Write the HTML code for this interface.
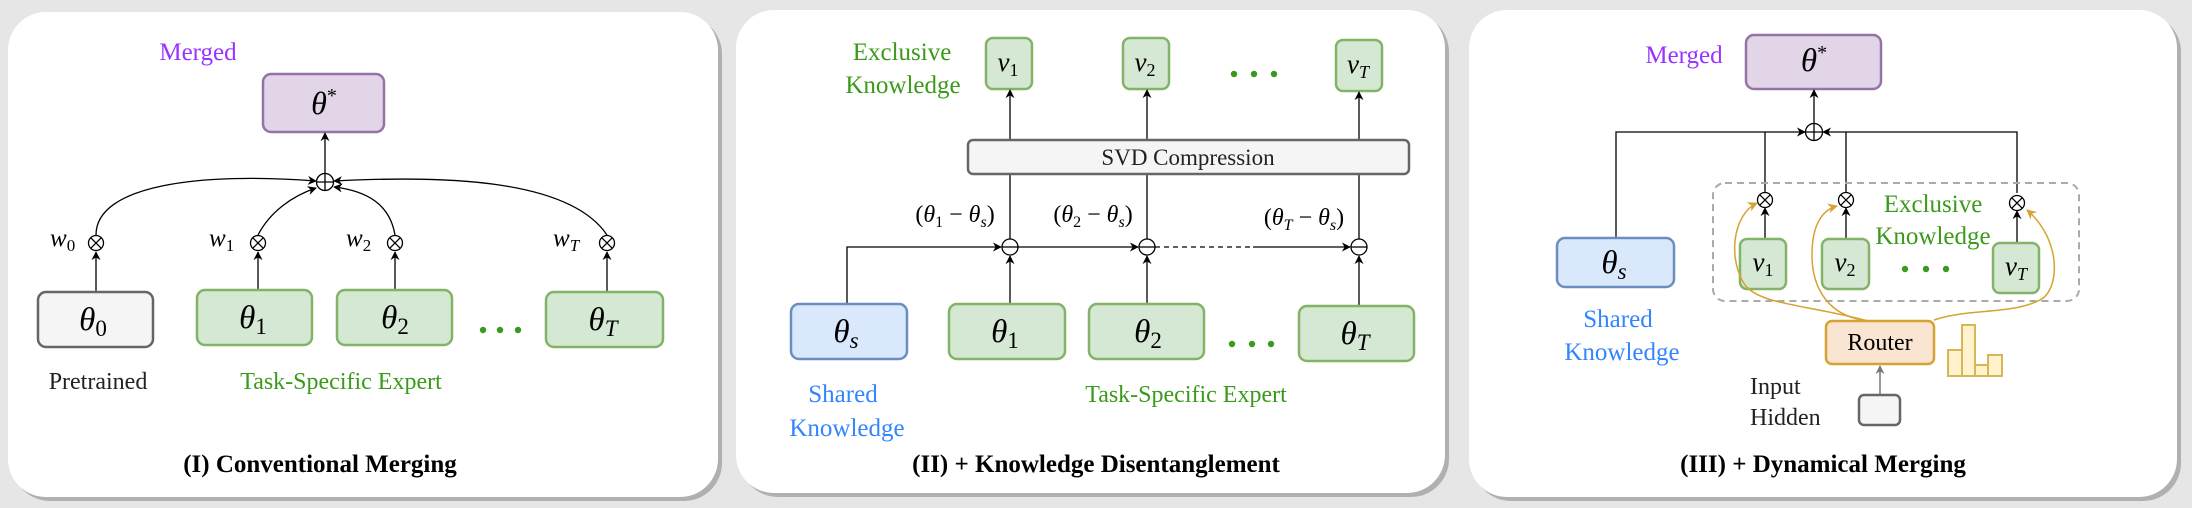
<!DOCTYPE html>
<html><head><meta charset="utf-8"><style>
html,body{margin:0;padding:0;background:#e6e6e6;}
svg{display:block;font-family:"Liberation Serif","Times New Roman",serif;}
text{font-family:"Liberation Serif","Times New Roman",serif !important;}
.m{font-style:italic;}
</style></head><body>
<svg width="2192" height="508" viewBox="0 0 2192 508" xmlns="http://www.w3.org/2000/svg" font-family="Liberation Serif, serif">
<defs>
<marker id="a" viewBox="0 0 10 10" refX="9" refY="5" markerWidth="9" markerHeight="9" orient="auto-start-reverse" markerUnits="userSpaceOnUse"><path d="M0,0 L10,5 L0,10 L3,5 z" fill="#000"/></marker>
<marker id="o" viewBox="0 0 10 10" refX="9" refY="5" markerWidth="10" markerHeight="10" orient="auto" markerUnits="userSpaceOnUse"><path d="M0,0 L10,5 L0,10 L3,5 z" fill="#d6a232"/></marker>
<marker id="g" viewBox="0 0 10 10" refX="9" refY="5" markerWidth="9" markerHeight="9" orient="auto" markerUnits="userSpaceOnUse"><path d="M0,0 L10,5 L0,10 L3,5 z" fill="#777"/></marker>
<g id="ot"><circle r="7.5" fill="#fff" stroke="#000" stroke-width="1.3"/><path d="M-5.3,-5.3 L5.3,5.3 M-5.3,5.3 L5.3,-5.3" stroke="#000" stroke-width="1.3"/></g>
<g id="op"><circle r="8.5" fill="#fff" stroke="#000" stroke-width="1.3"/><path d="M-8.5,0 L8.5,0 M0,-8.5 L0,8.5" stroke="#000" stroke-width="1.3"/></g>
<g id="om"><circle r="8" fill="#fff" stroke="#000" stroke-width="1.3"/><path d="M-8,0 L8,0" stroke="#000" stroke-width="1.3"/></g>
</defs>
<rect width="2192" height="508" fill="#e6e6e6"/>
<rect x="12" y="16" width="710" height="485" rx="38" fill="#b0b0b0"/>
<rect x="8" y="12" width="710" height="485" rx="38" fill="#fff"/>
<rect x="740" y="14" width="709" height="483" rx="38" fill="#b0b0b0"/>
<rect x="736" y="10" width="709" height="483" rx="38" fill="#fff"/>
<rect x="1473" y="14" width="708" height="487" rx="38" fill="#b0b0b0"/>
<rect x="1469" y="10" width="708" height="487" rx="38" fill="#fff"/>

<!-- PANEL 1 -->
<text x="198" y="60" font-size="25" fill="#9933ff" text-anchor="middle">Merged</text>
<rect x="263" y="74" width="121" height="58" rx="8" fill="#e1d5e7" stroke="#9673a6" stroke-width="2.5"/>
<text x="324" y="114" font-size="32" class="m" text-anchor="middle">θ<tspan font-size="20" dy="-12" font-style="normal">*</tspan></text>
<line x1="325" y1="173" x2="325" y2="133" stroke="#000" stroke-width="1.3" marker-end="url(#a)"/>
<g fill="none" stroke="#000" stroke-width="1.3" marker-end="url(#a)">
<path d="M96,235 C96,185 200,172 316,181"/>
<path d="M258,235 C270,212 292,196 316,188"/>
<path d="M395,235 C390,205 368,191 334,187"/>
<path d="M607,235 C570,180 450,175 334,181"/>
<line x1="96" y1="292" x2="96" y2="252"/>
<line x1="258" y1="290" x2="258" y2="252"/>
<line x1="395" y1="290" x2="395" y2="252"/>
<line x1="607" y1="292" x2="607" y2="252"/>
</g>
<use href="#op" x="325" y="182"/>
<use href="#ot" x="96" y="243"/><use href="#ot" x="258" y="243"/><use href="#ot" x="395" y="243"/><use href="#ot" x="607" y="243"/>
<text x="50" y="246" font-size="25" class="m">w<tspan font-size="17" font-style="normal" dy="5">0</tspan></text>
<text x="209" y="246" font-size="25" class="m">w<tspan font-size="17" font-style="normal" dy="5">1</tspan></text>
<text x="346" y="246" font-size="25" class="m">w<tspan font-size="17" font-style="normal" dy="5">2</tspan></text>
<text x="553" y="246" font-size="25" class="m">w<tspan font-size="17" dy="5">T</tspan></text>
<rect x="38" y="292" width="115" height="55" rx="8" fill="#f5f5f5" stroke="#666" stroke-width="2.5"/>
<rect x="197" y="290" width="115" height="55" rx="8" fill="#d5e8d4" stroke="#82b366" stroke-width="2.5"/>
<rect x="337" y="290" width="115" height="55" rx="8" fill="#d5e8d4" stroke="#82b366" stroke-width="2.5"/>
<rect x="546" y="292" width="117" height="55" rx="8" fill="#d5e8d4" stroke="#82b366" stroke-width="2.5"/>
<text x="93" y="330" font-size="33" class="m" text-anchor="middle">θ<tspan font-size="23" font-style="normal" dy="6">0</tspan></text>
<text x="253" y="328" font-size="33" class="m" text-anchor="middle">θ<tspan font-size="23" font-style="normal" dy="6">1</tspan></text>
<text x="395" y="328" font-size="33" class="m" text-anchor="middle">θ<tspan font-size="23" font-style="normal" dy="6">2</tspan></text>
<text x="603" y="330" font-size="33" class="m" text-anchor="middle">θ<tspan font-size="23" dy="6">T</tspan></text>
<g fill="#3a9a1a"><circle cx="483" cy="330" r="3.2"/><circle cx="500" cy="330" r="3.2"/><circle cx="518" cy="330" r="3.2"/></g>
<text x="98" y="389" font-size="24" text-anchor="middle" fill="#222">Pretrained</text>
<text x="341" y="389" font-size="24" text-anchor="middle" fill="#3a9a1a">Task-Specific Expert</text>
<text x="320" y="472" font-size="25" font-weight="bold" text-anchor="middle">(I) Conventional Merging</text>

<!-- PANEL 2 -->
<text x="902" y="60" font-size="25" fill="#3a9a1a" text-anchor="middle">Exclusive</text>
<text x="903" y="93" font-size="25" fill="#3a9a1a" text-anchor="middle">Knowledge</text>
<rect x="986" y="38" width="46" height="51" rx="7" fill="#d5e8d4" stroke="#82b366" stroke-width="2.5"/>
<rect x="1123" y="38" width="46" height="51" rx="7" fill="#d5e8d4" stroke="#82b366" stroke-width="2.5"/>
<rect x="1336" y="40" width="46" height="51" rx="7" fill="#d5e8d4" stroke="#82b366" stroke-width="2.5"/>
<text x="1008" y="71" font-size="27" class="m" text-anchor="middle">v<tspan font-size="18" font-style="normal" dy="5">1</tspan></text>
<text x="1145" y="71" font-size="27" class="m" text-anchor="middle">v<tspan font-size="18" font-style="normal" dy="5">2</tspan></text>
<text x="1358" y="73" font-size="27" class="m" text-anchor="middle">v<tspan font-size="18" dy="5">T</tspan></text>
<g fill="#3a9a1a"><circle cx="1234" cy="74" r="3.2"/><circle cx="1254" cy="74" r="3.2"/><circle cx="1274" cy="74" r="3.2"/></g>
<g stroke="#000" stroke-width="1.3" fill="none">
<line x1="1010" y1="140" x2="1010" y2="90" marker-end="url(#a)"/>
<line x1="1147" y1="140" x2="1147" y2="90" marker-end="url(#a)"/>
<line x1="1359" y1="140" x2="1359" y2="92" marker-end="url(#a)"/>
<line x1="1010" y1="174" x2="1010" y2="239"/>
<line x1="1147" y1="174" x2="1147" y2="239"/>
<line x1="1359" y1="174" x2="1359" y2="239"/>
<path d="M847,304 L847,247 L1001,247" marker-end="url(#a)"/>
<line x1="1018" y1="247" x2="1138" y2="247" marker-end="url(#a)"/>
<line x1="1155" y1="247" x2="1253" y2="247" stroke-dasharray="5,4"/>
<line x1="1253" y1="247" x2="1350" y2="247" marker-end="url(#a)"/>
<line x1="1010" y1="304" x2="1010" y2="256" marker-end="url(#a)"/>
<line x1="1147" y1="304" x2="1147" y2="256" marker-end="url(#a)"/>
<line x1="1359" y1="306" x2="1359" y2="256" marker-end="url(#a)"/>
</g>
<rect x="968" y="140" width="441" height="34" rx="5" fill="#f5f5f5" stroke="#666" stroke-width="2.5"/>
<text x="1188" y="165" font-size="23" text-anchor="middle" fill="#222">SVD Compression</text>
<use href="#om" x="1010" y="247"/><use href="#om" x="1147" y="247"/><use href="#om" x="1359" y="247"/>
<text x="955" y="222" font-size="24" text-anchor="middle">(<tspan class="m">θ</tspan><tspan font-size="16" dy="5">1</tspan><tspan dy="-5"> − </tspan><tspan class="m">θ</tspan><tspan font-size="16" dy="5" class="m">s</tspan><tspan dy="-5">)</tspan></text>
<text x="1093" y="222" font-size="24" text-anchor="middle">(<tspan class="m">θ</tspan><tspan font-size="16" dy="5">2</tspan><tspan dy="-5"> − </tspan><tspan class="m">θ</tspan><tspan font-size="16" dy="5" class="m">s</tspan><tspan dy="-5">)</tspan></text>
<text x="1304" y="225" font-size="24" text-anchor="middle">(<tspan class="m">θ</tspan><tspan font-size="16" dy="5" class="m">T</tspan><tspan dy="-5"> − </tspan><tspan class="m">θ</tspan><tspan font-size="16" dy="5" class="m">s</tspan><tspan dy="-5">)</tspan></text>
<rect x="791" y="304" width="116" height="55" rx="8" fill="#dae8fc" stroke="#6c8ebf" stroke-width="2.5"/>
<rect x="949" y="304" width="116" height="55" rx="8" fill="#d5e8d4" stroke="#82b366" stroke-width="2.5"/>
<rect x="1089" y="304" width="115" height="55" rx="8" fill="#d5e8d4" stroke="#82b366" stroke-width="2.5"/>
<rect x="1299" y="306" width="115" height="55" rx="8" fill="#d5e8d4" stroke="#82b366" stroke-width="2.5"/>
<text x="846" y="342" font-size="33" class="m" text-anchor="middle">θ<tspan font-size="23" dy="6">s</tspan></text>
<text x="1005" y="342" font-size="33" class="m" text-anchor="middle">θ<tspan font-size="23" font-style="normal" dy="6">1</tspan></text>
<text x="1148" y="342" font-size="33" class="m" text-anchor="middle">θ<tspan font-size="23" font-style="normal" dy="6">2</tspan></text>
<text x="1355" y="344" font-size="33" class="m" text-anchor="middle">θ<tspan font-size="23" dy="6">T</tspan></text>
<g fill="#3a9a1a"><circle cx="1232" cy="344" r="3.2"/><circle cx="1252" cy="344" r="3.2"/><circle cx="1271" cy="344" r="3.2"/></g>
<text x="843" y="402" font-size="25" fill="#3385ff" text-anchor="middle">Shared</text>
<text x="847" y="436" font-size="25" fill="#3385ff" text-anchor="middle">Knowledge</text>
<text x="1186" y="402" font-size="24" fill="#3a9a1a" text-anchor="middle">Task-Specific Expert</text>
<text x="1096" y="472" font-size="25" font-weight="bold" text-anchor="middle">(II) + Knowledge Disentanglement</text>

<!-- PANEL 3 -->
<text x="1684" y="63" font-size="25" fill="#9933ff" text-anchor="middle">Merged</text>
<rect x="1746" y="35" width="135" height="54" rx="8" fill="#e1d5e7" stroke="#9673a6" stroke-width="2.5"/>
<text x="1814" y="71" font-size="33" class="m" text-anchor="middle">θ<tspan font-size="20" dy="-12" font-style="normal">*</tspan></text>
<g stroke="#000" stroke-width="1.3" fill="none">
<line x1="1814" y1="123" x2="1814" y2="90" marker-end="url(#a)"/>
<path d="M1616,238 L1616,132 L1805,132" marker-end="url(#a)"/>
<path d="M2017,193 L2017,132 L1823,132" marker-end="url(#a)"/>
<line x1="1765" y1="192" x2="1765" y2="132"/>
<line x1="1846" y1="192" x2="1846" y2="132"/>
<line x1="1765" y1="239" x2="1765" y2="208" marker-end="url(#a)"/>
<line x1="1846" y1="239" x2="1846" y2="208" marker-end="url(#a)"/>
<line x1="2017" y1="243" x2="2017" y2="211" marker-end="url(#a)"/>
</g>
<use href="#op" x="1814" y="132"/>
<rect x="1557" y="238" width="117" height="49" rx="8" fill="#dae8fc" stroke="#6c8ebf" stroke-width="2.5"/>
<text x="1614" y="273" font-size="33" class="m" text-anchor="middle">θ<tspan font-size="23" dy="6">s</tspan></text>
<text x="1618" y="327" font-size="25" fill="#3385ff" text-anchor="middle">Shared</text>
<text x="1622" y="360" font-size="25" fill="#3385ff" text-anchor="middle">Knowledge</text>
<rect x="1713" y="183" width="366" height="118" rx="12" fill="none" stroke="#aaa" stroke-width="2" stroke-dasharray="7,5"/>
<use href="#ot" x="1765" y="200"/><use href="#ot" x="1846" y="200"/><use href="#ot" x="2017" y="203"/>
<rect x="1740" y="239" width="46" height="50" rx="7" fill="#d5e8d4" stroke="#82b366" stroke-width="2.5"/>
<rect x="1822" y="239" width="47" height="50" rx="7" fill="#d5e8d4" stroke="#82b366" stroke-width="2.5"/>
<rect x="1993" y="243" width="46" height="50" rx="7" fill="#d5e8d4" stroke="#82b366" stroke-width="2.5"/>
<text x="1763" y="271" font-size="27" class="m" text-anchor="middle">v<tspan font-size="18" font-style="normal" dy="5">1</tspan></text>
<text x="1845" y="271" font-size="27" class="m" text-anchor="middle">v<tspan font-size="18" font-style="normal" dy="5">2</tspan></text>
<text x="2016" y="275" font-size="27" class="m" text-anchor="middle">v<tspan font-size="18" dy="5">T</tspan></text>
<g fill="#3a9a1a"><circle cx="1905" cy="269" r="3.2"/><circle cx="1926" cy="269" r="3.2"/><circle cx="1946" cy="269" r="3.2"/></g>
<text x="1933" y="212" font-size="25" fill="#3a9a1a" text-anchor="middle">Exclusive</text>
<text x="1933" y="244" font-size="25" fill="#3a9a1a" text-anchor="middle">Knowledge</text>
<g fill="none" stroke="#d6a232" stroke-width="1.5">
<path d="M1868,321 C1810,305 1760,305 1745,285 C1728,260 1732,215 1757,203" marker-end="url(#o)"/>
<path d="M1863,320 C1830,315 1812,290 1812,255 C1812,225 1822,210 1837,206" marker-end="url(#o)"/>
<path d="M1934,320 C1970,308 2010,315 2040,300 C2060,290 2062,240 2027,210" marker-end="url(#o)"/>
</g>
<rect x="1826" y="321" width="108" height="43" rx="6" fill="#fae5d3" stroke="#d6a232" stroke-width="2.5"/>
<text x="1880" y="350" font-size="24" text-anchor="middle">Router</text>
<g fill="#fff2cc" stroke="#d6b656" stroke-width="2">
<rect x="1948" y="350" width="14" height="26"/><rect x="1962" y="325" width="13" height="51"/><rect x="1975" y="365" width="13" height="11"/><rect x="1988" y="355" width="14" height="21"/>
</g>
<line x1="1880" y1="395" x2="1880" y2="366" stroke="#777" stroke-width="1.5" marker-end="url(#g)"/>
<rect x="1859" y="395" width="41" height="30" rx="5" fill="#f5f5f5" stroke="#666" stroke-width="2.5"/>
<text x="1750" y="394" font-size="24" fill="#222">Input</text>
<text x="1750" y="425" font-size="24" fill="#222">Hidden</text>
<text x="1823" y="472" font-size="25" font-weight="bold" text-anchor="middle">(III) + Dynamical Merging</text>
</svg>
</body></html>
